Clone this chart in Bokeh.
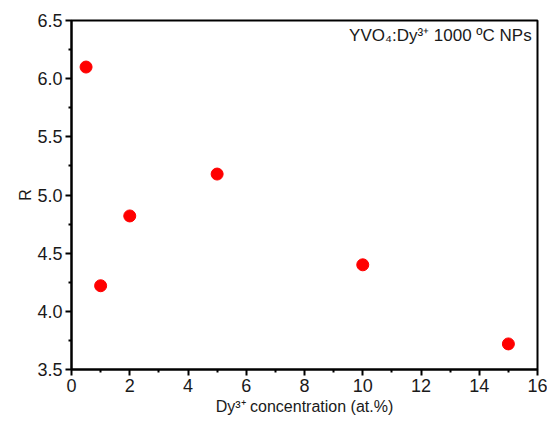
from bokeh.plotting import figure
from bokeh.models import Range1d, FixedTicker, Title
from bokeh.core.properties import value
from bokeh.embed import file_html
from bokeh.resources import INLINE

conc = [0.5, 1, 2, 5, 10, 15]
R = [6.10, 4.22, 4.82, 5.18, 4.40, 3.72]
xticks = [0, 2, 4, 6, 8, 10, 12, 14, 16]
xminor = [1, 3, 5, 7, 9, 11, 13, 15]
yticks = [3.5, 4.0, 4.5, 5.0, 5.5, 6.0, 6.5]
yminor = [3.75, 4.25, 4.75, 5.25, 5.75, 6.25]
xlabel = "Dy³⁺ concentration (at.%)"
ylabel = "R"
note = "YVO₄:Dy³⁺ 1000 ºC NPs"

FONT = "Liberation Sans"
TXT = "#1a1a1a"

p = figure(width=547, height=421, output_backend="svg", toolbar_location=None,
           x_range=Range1d(0, 16), y_range=Range1d(3.5, 6.5),
           min_border_left=71, min_border_right=10, min_border_top=20, min_border_bottom=52)
p.grid.visible = False
p.outline_line_color = "black"
p.outline_line_width = 2

p.scatter(conc, R, size=12, color="#ff0000")

p.xaxis.ticker = FixedTicker(ticks=xticks, minor_ticks=xminor)
p.yaxis.ticker = FixedTicker(ticks=yticks, minor_ticks=yminor)
p.yaxis.major_label_overrides = {t: f"{t:.1f}" for t in yticks}

for ax in (p.xaxis, p.yaxis):
    ax.axis_line_width = 2
    ax.major_tick_line_width = 2
    ax.minor_tick_line_width = 2
    ax.major_tick_out = 6
    ax.minor_tick_out = 3
    ax.major_tick_in = 0
    ax.minor_tick_in = 0
    ax.major_label_text_font = FONT
    ax.major_label_text_font_size = "18px"
    ax.major_label_text_color = TXT
    ax.major_label_standoff = 3

p.add_layout(Title(text=xlabel, align="center", text_font=FONT, text_font_size="16px",
                   text_font_style="normal", text_color=TXT, standoff=2), "below")
p.add_layout(Title(text=ylabel, align="center", text_font=FONT, text_font_size="16px",
                   text_font_style="normal", text_color=TXT, standoff=2), "left")

p.text(x=[15.8], y=[6.45], text=[note], text_align="right", text_baseline="top",
       text_font=value(FONT), text_font_size="17px", text_color=TXT)

open("out.html", "w").write(file_html(p, INLINE))
